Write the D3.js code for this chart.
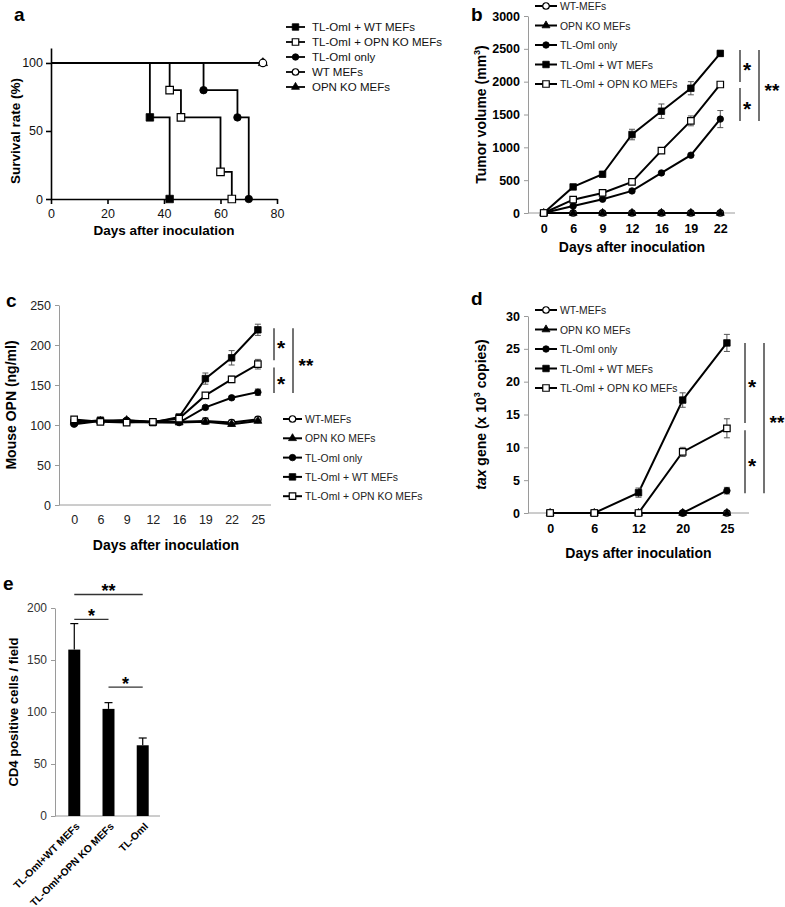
<!DOCTYPE html>
<html><head><meta charset="utf-8">
<script src="https://cdn.jsdelivr.net/npm/d3@7"></script>
<style>body{margin:0;background:#fff} svg{display:block;font-family:"Liberation Sans",Arial,Helvetica,sans-serif}</style>
</head><body><svg id="fig" width="785" height="907"></svg>
<script>
// ---------- DATA ----------
// Panel a: Kaplan-Meier survival
const aNames = ["TL-OmI + WT MEFs","TL-OmI + OPN KO MEFs","TL-OmI only","WT MEFs","OPN KO MEFs"];
const aSymbols = ["squareF","squareO","circleF","circleO","triangleF"];
const survTLWT = [[0,100],[35,60],[42,0]];
const survTLKO = [[0,100],[42,80],[46,60],[60,20],[64,0]];
const survTL   = [[0,100],[54,80],[66,60],[70,0]];
const survWT   = [[0,100],[75,100]];
const survKO   = [[0,100],[75,100]];
const aXTicks = [0,20,40,60,80];
const aYTicks = [0,50,100];

// Panels b, c, d share series
const lineNames = ["WT-MEFs","OPN KO MEFs","TL-OmI only","TL-OmI + WT MEFs","TL-OmI + OPN KO MEFs"];
const lineSymbols = ["circleO","triangleF","circleF","squareF","squareO"];

// Panel b: tumor volume
const bDays = ["0","6","9","12","16","19","22"];
const bWT   = [0,0,0,0,0,0,0];
const bKO   = [0,0,0,0,0,0,0];
const bTL   = [0,107,210,336,610,880,1430];
const bTLWT = [0,397,590,1195,1550,1900,2430];
const bTLKO = [0,203,305,473,950,1403,1957];
const bErrWT   = [0,0,0,0,0,0,0];
const bErrKO   = [0,0,0,0,0,0,0];
const bErrTL   = [0,0,0,0,0,0,130];
const bErrTLWT = [0,0,0,80,110,100,45];
const bErrTLKO = [0,0,0,0,0,75,0];
const bYTicks = [0,500,1000,1500,2000,2500,3000];

// Panel c: mouse OPN
const cDays = ["0","6","9","12","16","19","22","25"];
const cWT   = [105,105,105,104,104,105,103,107];
const cKO   = [104,105,106,103,103,104,101,105];
const cTL   = [101,105,106,104,103,122,134,141];
const cTLWT = [103,106,104,103,110,158,184,219];
const cTLKO = [107,104,103,104,108,137,157,176];
const cErrWT   = [0,0,0,0,0,4,3,3];
const cErrKO   = [0,0,0,0,0,0,2,2];
const cErrTL   = [0,0,0,0,0,2,2,4];
const cErrTLWT = [0,0,0,0,0,7,9,7];
const cErrTLKO = [0,0,0,0,0,0,4,6];
const cYTicks = [0,50,100,150,200,250];

// Panel d: tax gene copies
const dDays = ["0","6","12","20","25"];
const dWT   = [0,0,0,0,0];
const dKO   = [0,0,0,0,0];
const dTL   = [0,0,0,0,3.4];
const dTLWT = [0,0,3.1,17.2,25.9];
const dTLKO = [0,0,0,9.3,12.9];
const dErrWT   = [0,0,0,0,0];
const dErrKO   = [0,0,0,0,0];
const dErrTL   = [0,0,0,0,0.5];
const dErrTLWT = [0,0,0.7,1.1,1.3];
const dErrTLKO = [0,0,0,0.7,1.45];
const dYTicks = [0,5,10,15,20,25,30];

// Panel e: CD4 positive cells
const eCats = ["TL-OmI+WT MEFs","TL-OmI+OPN KO MEFs","TL-OmI"];
const eVals = [160,103,68];
const eErrs = [25,6,7];
const eYTicks = [0,50,100,150,200];
// significance brackets [fromIndex, toIndex, level, label]
const eSig = [[0,2,213,"**"],[0,1,189,"*"],[1,2,124,"*"]];
// brackets for line panels: [top, bottom, column, label]
const bSig = [[2482,1995,0,"*"],[1903,1401,0,"*"],[2482,1401,1,"**"]];
const cSig = [[221,181,0,"*"],[172,140,0,"*"],[221,140,1,"**"]];
const dSig = [[25.9,13.7,0,"*"],[12.6,3.0,0,"*"],[25.9,3.0,1,"**"]];

// ---------- DRAWING ----------
const svg = d3.select("#fig");
const fmt = d3.format("d");

function sym(g, type, x, y, s) {
  const shape = type.startsWith("square") ? d3.symbolSquare :
                type.startsWith("circle") ? d3.symbolCircle : d3.symbolTriangle;
  const area = type.startsWith("square") ? s*s : type.startsWith("circle") ? Math.PI*(s/2)*(s/2) : s*s*0.65;
  const open = type.endsWith("O");
  g.append("path")
    .attr("d", d3.symbol().type(shape).size(area)())
    .attr("transform", `translate(${x},${y})`)
    .attr("fill", open ? "#fff" : "#000")
    .attr("stroke", "#000")
    .attr("stroke-width", open ? 1.2 : 0.8);
}

function panelLabel(t, x, y) {
  svg.append("text").attr("x", x).attr("y", y).text(t)
    .attr("font-size", 19).attr("font-weight", "bold");
}

// ----- Panel a -----
(function(){
  const g = svg.append("g");
  const x = d3.scaleLinear().domain([0,80]).range([51,277]);
  const y = d3.scaleLinear().domain([0,111]).range([199,48]);
  const xa = g.append("g").attr("transform","translate(0,199)")
    .call(d3.axisBottom(x).tickValues(aXTicks).tickSize(5).tickSizeOuter(0));
  const ya = g.append("g").attr("transform","translate(51,0)")
    .call(d3.axisLeft(y).tickValues(aYTicks).tickSize(5).tickSizeOuter(0));
  [xa,ya].forEach(a=>{
    a.selectAll("path,line").attr("stroke","#000").attr("stroke-width",1.6);
    a.selectAll("text").attr("font-size",12.5).attr("fill","#111").attr("font-family","Liberation Sans, Arial, sans-serif");
  });
  xa.selectAll("text").attr("dy","0.85em");
  const series = [survTLWT, survTLKO, survTL, survWT, survKO];
  const line = d3.line().x(d=>x(d[0])).y(d=>y(d[1])).curve(d3.curveStepAfter);
  series.forEach(s=>{
    g.append("path").attr("d", line(s)).attr("fill","none").attr("stroke","#000").attr("stroke-width",1.8);
  });
  [4,3,0,1,2].forEach(i=>{
    series[i].slice(1).forEach(p=>sym(g, aSymbols[i], x(p[0]), y(p[1]), 7.5));
  });
  // legend
  aNames.forEach((n,i)=>{
    const yy = 27 + i*15;
    g.append("line").attr("x1",286).attr("x2",305).attr("y1",yy).attr("y2",yy).attr("stroke","#000").attr("stroke-width",1.8);
    sym(g, aSymbols[i], 295.5, yy, 6.5);
    g.append("text").attr("x",312).attr("y",yy+4).text(n).attr("font-size",11.5).attr("fill","#111");
  });
  g.append("text").attr("transform","translate(20,131) rotate(-90)").attr("text-anchor","middle")
    .text("Survival rate (%)").attr("font-size",13.5).attr("font-weight","bold");
  g.append("text").attr("x",164).attr("y",235).attr("text-anchor","middle")
    .text("Days after inoculation").attr("font-size",13.5).attr("font-weight","bold");
  panelLabel("a", 14, 21);
})();

// ----- Line panels b, c, d -----
function linePanel(o) {
  const g = svg.append("g");
  const x = d3.scalePoint().domain(o.days).range(o.xr).padding(0.5);
  const y = d3.scaleLinear().domain(o.ydom).range(o.yr);
  const ya = g.append("g").attr("transform",`translate(${o.ax},0)`)
    .call(d3.axisLeft(y).tickValues(o.yticks).tickFormat(fmt).tickSize(4).tickSizeOuter(0));
  const xa = g.append("g").attr("transform",`translate(0,${o.yr[0]})`)
    .call(d3.axisBottom(x).tickSize(0).tickSizeOuter(0));
  xa.select(".domain").attr("d", `M${o.ax},0H${o.xr[1]}`);
  [xa,ya].forEach(a=>{
    a.selectAll("path,line").attr("stroke","#9a9a9a").attr("stroke-width",1);
    a.selectAll("text").attr("font-size",12.5).attr("fill",o.tickBold?"#000":"#222")
      .attr("font-weight",o.tickBold?"bold":"normal").attr("font-family","Liberation Sans, Arial, sans-serif");
  });
  ya.selectAll("text").attr("x",-8);
  xa.selectAll("text").attr("dy", o.xdy);
  const line = d3.line().x((d,i)=>x(o.days[i])).y(d=>y(d));
  o.series.forEach((s,k)=>{
    g.append("path").attr("d", line(s)).attr("fill","none").attr("stroke","#000").attr("stroke-width",2);
  });
  o.series.forEach((s,k)=>{
    s.forEach((v,i)=>{
      const e = o.errs[k][i];
      if (e>0) {
        const cx = x(o.days[i]);
        g.append("line").attr("x1",cx).attr("x2",cx).attr("y1",y(v-e)).attr("y2",y(v+e)).attr("stroke","#555").attr("stroke-width",1);
        [v-e,v+e].forEach(t=>g.append("line").attr("x1",cx-3).attr("x2",cx+3).attr("y1",y(t)).attr("y2",y(t)).attr("stroke","#555").attr("stroke-width",1));
      }
      sym(g, lineSymbols[k], x(o.days[i]), y(v), o.ms);
    });
  });
  // legend
  lineNames.forEach((n,i)=>{
    const yy = o.leg.y + i*o.leg.dy;
    g.append("line").attr("x1",o.leg.x1).attr("x2",o.leg.x2).attr("y1",yy).attr("y2",yy).attr("stroke","#000").attr("stroke-width",2);
    sym(g, lineSymbols[i], (o.leg.x1+o.leg.x2)/2, yy, 6.5);
    g.append("text").attr("x",o.leg.x2+3).attr("y",yy+4).text(n).attr("font-size",10.4).attr("fill","#222");
  });
  // significance
  o.sig.forEach(sg=>{
    const lx = o.sigX[sg[2]];
    const y1 = y(sg[0]) , y2 = y(sg[1]);
    g.append("line").attr("x1",lx).attr("x2",lx).attr("y1",y1).attr("y2",y2).attr("stroke","#444").attr("stroke-width",1.5);
    g.append("text").attr("x", lx + (sg[3]==="**"?13:7)).attr("y",(y1+y2)/2+11).attr("text-anchor","middle")
      .text(sg[3]).attr("font-size",sg[3]==="**"?19:21).attr("font-weight","bold");
  });
  // titles
  g.append("text").attr("x",(o.xr[0]+o.xr[1])/2).attr("y",o.xtY).attr("text-anchor","middle")
    .text("Days after inoculation").attr("font-size",14).attr("font-weight","bold");
  const yt = g.append("text").attr("transform",`translate(${o.ytX},${(o.yr[0]+o.yr[1])/2}) rotate(-90)`)
    .attr("text-anchor","middle").attr("font-size",14).attr("font-weight","bold");
  o.ytitle(yt);
  panelLabel(o.label, o.lab[0], o.lab[1]);
}

linePanel({
  days:bDays, series:[bWT,bKO,bTL,bTLWT,bTLKO], errs:[bErrWT,bErrKO,bErrTL,bErrTLWT,bErrTLKO],
  xr:[529,735], ax:528, ydom:[0,3000], yr:[213,16], yticks:bYTicks, tickBold:true, xdy:"1.35em", ms:6.5,
  leg:{x1:535,x2:557,y:6,dy:19.5}, sig:bSig, sigX:[740,759], xtY:252, ytX:486,
  ytitle: t=>{ t.append("tspan").text("Tumor volume (mm"); t.append("tspan").text("3").attr("font-size",9).attr("dy",-6); t.append("tspan").text(")").attr("dy",6); },
  label:"b", lab:[471,21]
});
linePanel({
  days:cDays, series:[cWT,cKO,cTL,cTLWT,cTLKO], errs:[cErrWT,cErrKO,cErrTL,cErrTLWT,cErrTLKO],
  xr:[61,271], ax:59, ydom:[0,250], yr:[505,305], yticks:cYTicks, tickBold:false, xdy:"1.3em", ms:6.5,
  leg:{x1:283,x2:302,y:419,dy:19.3}, sig:cSig, sigX:[274,293], xtY:550, ytX:16,
  ytitle: t=>{ t.text("Mouse OPN (ng/ml)"); },
  label:"c", lab:[6,307]
});
linePanel({
  days:dDays, series:[dWT,dKO,dTL,dTLWT,dTLKO], errs:[dErrWT,dErrKO,dErrTL,dErrTLWT,dErrTLKO],
  xr:[528,749], ax:528, ydom:[0,30], yr:[513,316], yticks:dYTicks, tickBold:true, xdy:"1.35em", ms:6.5,
  leg:{x1:535,x2:557,y:310,dy:19.5}, sig:dSig, sigX:[745,764], xtY:558, ytX:486,
  ytitle: t=>{ t.append("tspan").text("tax").attr("font-style","italic"); t.append("tspan").text(" gene (x 10");
    t.append("tspan").text("3").attr("font-size",9).attr("dy",-6); t.append("tspan").text(" copies)").attr("dy",6); },
  label:"d", lab:[471,305]
});

// ----- Panel e -----
(function(){
  const g = svg.append("g");
  const x = d3.scaleBand().domain(eCats).range([57,160]).paddingInner(0.65).paddingOuter(0.33);
  const y = d3.scaleLinear().domain([0,200]).range([816,608]);
  const ya = g.append("g").attr("transform","translate(55,0)")
    .call(d3.axisLeft(y).tickValues(eYTicks).tickSize(4).tickSizeOuter(0));
  const xa = g.append("g").attr("transform","translate(0,816)")
    .call(d3.axisBottom(x).tickSize(0).tickSizeOuter(0));
  xa.select(".domain").attr("d","M55,0H160");
  [xa,ya].forEach(a=>{
    a.selectAll("path,line").attr("stroke","#9a9a9a").attr("stroke-width",1);
    a.selectAll("text").attr("font-family","Liberation Sans, Arial, sans-serif");
  });
  ya.selectAll("text").attr("font-size",12).attr("fill","#333").attr("x",-8);
  xa.selectAll(".tick text").attr("font-size",10.3).attr("font-weight","bold").attr("fill","#000")
    .attr("text-anchor","end").attr("dy","0").attr("y",0)
    .attr("transform","translate(6,11) rotate(-45)");
  g.selectAll("rect.bar").data(eCats).enter().append("rect")
    .attr("x",d=>x(d)).attr("width",x.bandwidth())
    .attr("y",(d,i)=>y(eVals[i])).attr("height",(d,i)=>816-y(eVals[i])).attr("fill","#000");
  eCats.forEach((c,i)=>{
    const cx = x(c)+x.bandwidth()/2;
    g.append("line").attr("x1",cx).attr("x2",cx).attr("y1",y(eVals[i])).attr("y2",y(eVals[i]+eErrs[i])).attr("stroke","#000").attr("stroke-width",1.2);
    g.append("line").attr("x1",cx-4).attr("x2",cx+4).attr("y1",y(eVals[i]+eErrs[i])).attr("y2",y(eVals[i]+eErrs[i])).attr("stroke","#000").attr("stroke-width",1.2);
  });
  eSig.forEach(s=>{
    const x1 = x(eCats[s[0]])+x.bandwidth()/2, x2 = x(eCats[s[1]])+x.bandwidth()/2;
    g.append("line").attr("x1",x1).attr("x2",x2).attr("y1",y(s[2])).attr("y2",y(s[2])).attr("stroke","#333").attr("stroke-width",1.3);
    g.append("text").attr("x",(x1+x2)/2).attr("y",y(s[2])+3).attr("text-anchor","middle")
      .text(s[3]).attr("font-size",18).attr("font-weight","bold");
  });
  g.append("text").attr("transform","translate(18,712) rotate(-90)").attr("text-anchor","middle")
    .text("CD4 positive cells / field").attr("font-size",13).attr("font-weight","bold");
  panelLabel("e", 3, 590);
})();
</script></body></html>
